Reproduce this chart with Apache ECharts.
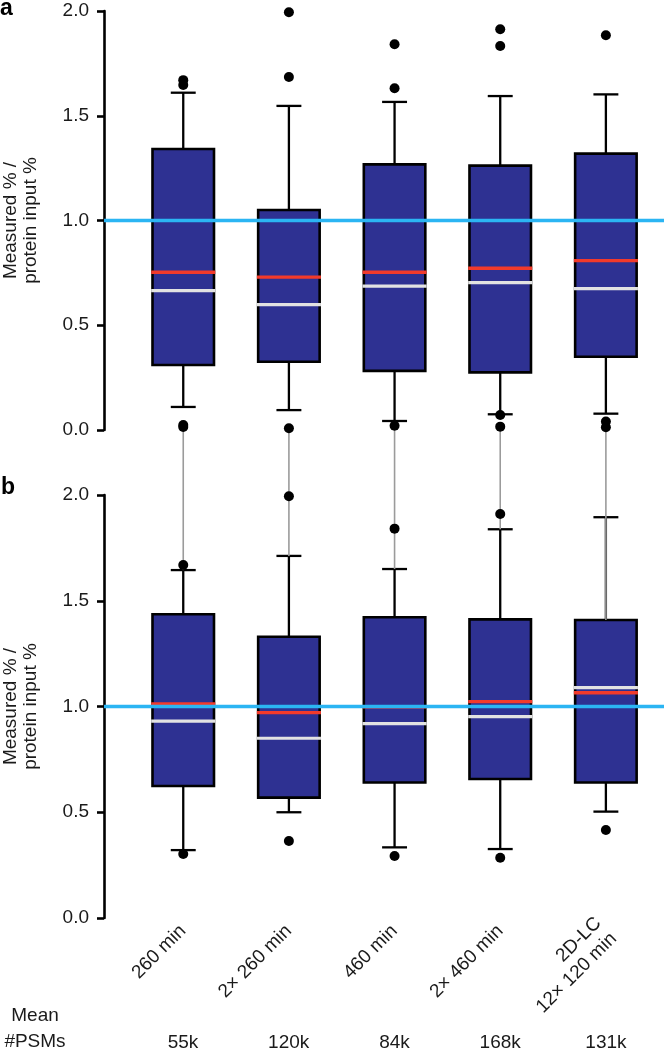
<!DOCTYPE html>
<html><head><meta charset="utf-8">
<script src="https://cdn.jsdelivr.net/npm/echarts@6/dist/echarts.min.js"></script>
<style>html,body{margin:0;padding:0;background:#fff}#c{width:664px;height:1051px}</style>
</head><body><div id="c"></div>
<script>
// ---------- data ----------
const categories = ['260 min', '2\u00d7 260 min', '460 min', '2\u00d7 460 min', '2D-LC\n12\u00d7 120 min'];
const meanPSMs = ['55k', '120k', '84k', '168k', '131k'];
const yTickLabels = ['0.0', '0.5', '1.0', '1.5', '2.0'];
const refLevel = 1.0;

// panel a: [lower whisker, Q1, median, Q3, upper whisker]
const boxStatsA = [
  [0.110, 0.310, 0.665, 1.341, 1.610],
  [0.095, 0.326, 0.598, 1.050, 1.547],
  [0.043, 0.282, 0.687, 1.268, 1.566],
  [0.075, 0.275, 0.703, 1.262, 1.594],
  [0.078, 0.350, 0.675, 1.319, 1.602]
];
const meansA = [0.753, 0.730, 0.753, 0.772, 0.808];
const outliersA = [
  [0, 1.670], [0, 1.647], [0, 0.024], [0, 0.014],
  [1, 1.994], [1, 1.685], [1, 0.008],
  [2, 1.841], [2, 1.631], [2, 0.020],
  [3, 1.913], [3, 1.833], [3, 0.072], [3, 0.016],
  [4, 1.884], [4, 0.040], [4, 0.013]
];

// panel b
const boxStatsB = [
  [0.321, 0.624, 0.931, 1.436, 1.645],
  [0.500, 0.569, 0.850, 1.330, 1.712],
  [0.334, 0.641, 0.919, 1.422, 1.650],
  [0.326, 0.657, 0.952, 1.412, 1.838],
  [0.503, 0.641, 1.089, 1.409, 1.895]
];
const meansB = [1.012, 0.971, 0.998, 1.023, 1.065];
const outliersB = [
  [0, 1.669], [0, 0.303],
  [1, 1.994], [1, 0.364],
  [2, 1.841], [2, 0.293],
  [3, 1.910], [3, 0.285],
  [4, 0.416]
];
// grey connector lines in panel b (from value up to the panel-a baseline)
const connectorFromB = [1.645, 1.712, 1.650, 1.838, 1.409];
const connectorToB = 2.31;

// ---------- styles ----------
const FONT = '"Liberation Sans", Arial, Helvetica, sans-serif';
const BOX_FILL = '#2E3192';
const MEAN_COLOR = '#F23A2B';
const MEDIAN_COLOR = '#E2E2E2';
const REF_COLOR = '#2BB5F3';
const TXT = '#1a1a1a';

function boxRows(stats, means) { return stats.map((s, i) => [i].concat(s, [means[i]])); }

function renderBox(params, api) {
  const i = api.value(0);
  const p = k => api.coord([i, api.value(k)]);
  const lo = p(1), q1 = p(2), md = p(3), q3 = p(4), hi = p(5), mn = p(6);
  const unit = api.size([1, 0])[0];
  const bw = unit * 0.582, cw = unit * 0.236;
  const x = q1[0];
  const blk = { stroke: '#000', lineWidth: 2.3 };
  return {
    type: 'group', children: [
      { type: 'line', shape: { x1: x, y1: q3[1], x2: x, y2: hi[1] }, style: blk },
      { type: 'line', shape: { x1: x, y1: q1[1], x2: x, y2: lo[1] }, style: blk },
      { type: 'line', shape: { x1: x - cw / 2, y1: hi[1], x2: x + cw / 2, y2: hi[1] }, style: blk },
      { type: 'line', shape: { x1: x - cw / 2, y1: lo[1], x2: x + cw / 2, y2: lo[1] }, style: blk },
      { type: 'rect', shape: { x: x - bw / 2, y: q3[1], width: bw, height: q1[1] - q3[1] },
        style: { fill: BOX_FILL, stroke: '#000', lineWidth: 2.6 } },
      { type: 'line', shape: { x1: x - bw / 2 - 1.3, y1: md[1], x2: x + bw / 2 + 1.3, y2: md[1] },
        style: { stroke: MEDIAN_COLOR, lineWidth: 3.2 } },
      { type: 'line', shape: { x1: x - bw / 2 - 1.3, y1: mn[1], x2: x + bw / 2 + 1.3, y2: mn[1] },
        style: { stroke: MEAN_COLOR, lineWidth: 3.3 } }
    ]
  };
}

function renderConnector(params, api) {
  const a = api.coord([api.value(0), api.value(1)]);
  const b = api.coord([api.value(0), api.value(2)]);
  return { type: 'line', shape: { x1: a[0], y1: a[1], x2: b[0], y2: b[1] },
    style: { stroke: '#9b9b9b', lineWidth: 1.6 } };
}

function yAxisCfg(gi) {
  return {
    type: 'value', gridIndex: gi, min: 0, max: 2, interval: 0.5,
    name: 'Measured % /\nprotein input %', nameLocation: 'middle', nameGap: 63,
    nameTextStyle: { fontFamily: FONT, fontSize: 19, lineHeight: 20, color: TXT },
    axisLine: { show: true, onZero: false, lineStyle: { color: '#000', width: 2.6 } },
    axisTick: { show: true, length: 7, lineStyle: { color: '#000', width: 2.6 } },
    axisLabel: { fontFamily: FONT, fontSize: 19, color: TXT, margin: 15,
      formatter: v => yTickLabels[Math.round(v / 0.5)] },
    splitLine: { show: false }
  };
}

const refMark = {
  silent: true, symbol: 'none', label: { show: false },
  lineStyle: { color: REF_COLOR, width: 3.3, type: 'solid' },
  emphasis: { disabled: true },
  data: [{ yAxis: refLevel }]
};

const option = {
  animation: false,
  backgroundColor: '#fff',
  textStyle: { fontFamily: FONT },
  grid: [
    { left: 104, right: 0, top: 11, height: 419, outerBoundsMode: 'none', containLabel: false },
    { left: 104, right: 0, top: 495, height: 423, outerBoundsMode: 'none', containLabel: false },
    { left: 130.1, width: 528.75, top: 918, height: 1, outerBoundsMode: 'none', containLabel: false }
  ],
  xAxis: [
    { type: 'value', gridIndex: 0, min: -0.75, max: 4.55, show: false },
    { type: 'value', gridIndex: 1, min: -0.75, max: 4.55, show: false },
    { type: 'category', gridIndex: 2, data: categories, position: 'bottom',
      axisLine: { show: false }, axisTick: { show: false }, splitLine: { show: false },
      axisLabel: { interval: 0, rotate: 45, margin: 9, fontFamily: FONT, fontSize: 19, lineHeight: 22, color: TXT } },
    { type: 'category', gridIndex: 2, data: meanPSMs, position: 'bottom', offset: 106,
      axisLine: { show: false }, axisTick: { show: false }, splitLine: { show: false },
      axisLabel: { interval: 0, margin: 8, fontFamily: FONT, fontSize: 19, color: TXT } }
  ],
  yAxis: [yAxisCfg(0), yAxisCfg(1), { type: 'value', gridIndex: 2, show: false }],
  graphic: [
    { type: 'text', left: 0, top: -3, style: { text: 'a', font: 'bold 23px ' + FONT, fill: '#000' } },
    { type: 'text', left: 1, top: 476, style: { text: 'b', font: 'bold 23px ' + FONT, fill: '#000' } },
    { type: 'text', x: 35, y: 1029, style: { text: 'Mean\n#PSMs', align: 'center', verticalAlign: 'middle',
      font: '19px ' + FONT, lineHeight: 26, fill: TXT } }
  ],
  series: [
    { type: 'custom', xAxisIndex: 0, yAxisIndex: 0, z: 2, clip: false,
      renderItem: renderBox, data: boxRows(boxStatsA, meansA), markLine: refMark },
    { type: 'custom', xAxisIndex: 1, yAxisIndex: 1, z: 2, clip: false,
      renderItem: renderBox, data: boxRows(boxStatsB, meansB), markLine: refMark },
    { type: 'custom', xAxisIndex: 1, yAxisIndex: 1, z: 3, clip: false,
      renderItem: renderConnector, data: connectorFromB.map((v, i) => [i, v, connectorToB]) },
    { type: 'scatter', xAxisIndex: 0, yAxisIndex: 0, z: 4, symbolSize: 10,
      itemStyle: { color: '#000', opacity: 1 }, data: outliersA },
    { type: 'scatter', xAxisIndex: 1, yAxisIndex: 1, z: 4, symbolSize: 10,
      itemStyle: { color: '#000', opacity: 1 }, data: outliersB }
  ]
};

const chart = echarts.init(document.getElementById('c'), null, { renderer: 'canvas' });
chart.setOption(option);
</script>
</body></html>
